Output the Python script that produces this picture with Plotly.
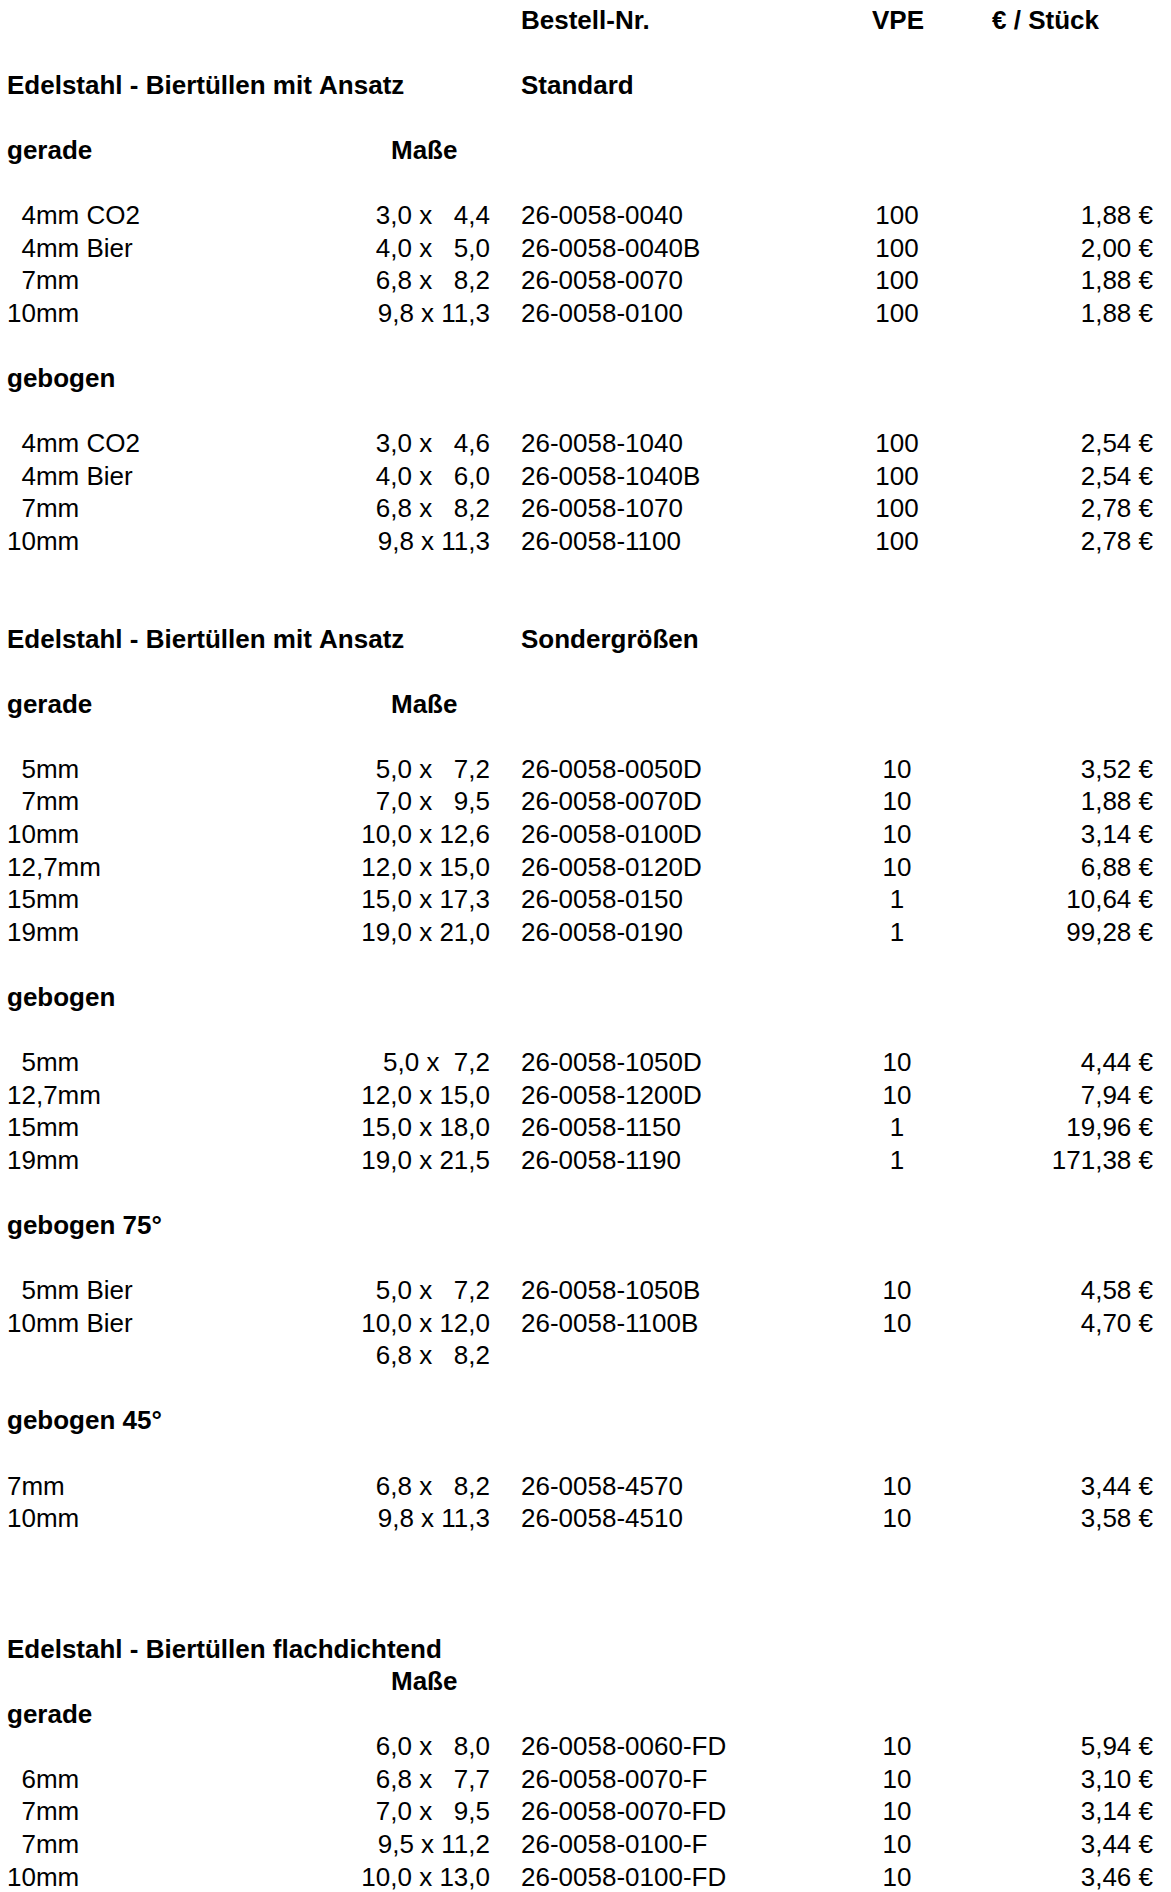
import plotly.graph_objects as go

# Preisliste Edelstahl-Biertüllen, Zeile für Zeile wie im Blatt ("" = leere Zelle)
col_bezeichnung = [
    "", "", "Edelstahl - Biertüllen mit Ansatz", "", "gerade", "",
    "  4mm CO2", "  4mm Bier", "  7mm", "10mm", "", "gebogen", "",
    "  4mm CO2", "  4mm Bier", "  7mm", "10mm", "", "",
    "Edelstahl - Biertüllen mit Ansatz", "", "gerade", "",
    "  5mm", "  7mm", "10mm", "12,7mm", "15mm", "19mm", "", "gebogen", "",
    "  5mm", "12,7mm", "15mm", "19mm", "", "gebogen 75°", "",
    "  5mm Bier", "10mm Bier", "", "", "gebogen 45°", "",
    "7mm", "10mm", "", "", "",
    "Edelstahl - Biertüllen flachdichtend", "", "gerade",
    "", "  6mm", "  7mm", "  7mm", "10mm",
]
col_masse = [
    "", "", "", "", "Maße", "",
    "3,0 x   4,4", "4,0 x   5,0", "6,8 x   8,2", "9,8 x 11,3", "", "", "",
    "3,0 x   4,6", "4,0 x   6,0", "6,8 x   8,2", "9,8 x 11,3", "", "",
    "", "", "Maße", "",
    "5,0 x   7,2", "7,0 x   9,5", "10,0 x 12,6", "12,0 x 15,0", "15,0 x 17,3", "19,0 x 21,0", "", "", "",
    "5,0 x  7,2", "12,0 x 15,0", "15,0 x 18,0", "19,0 x 21,5", "", "", "",
    "5,0 x   7,2", "10,0 x 12,0", "6,8 x   8,2", "", "", "",
    "6,8 x   8,2", "9,8 x 11,3", "", "", "",
    "", "Maße", "",
    "6,0 x   8,0", "6,8 x   7,7", "7,0 x   9,5", "9,5 x 11,2", "10,0 x 13,0",
]
col_bestellnr = [
    "Bestell-Nr.", "", "Standard", "", "", "",
    "26-0058-0040", "26-0058-0040B", "26-0058-0070", "26-0058-0100", "", "", "",
    "26-0058-1040", "26-0058-1040B", "26-0058-1070", "26-0058-1100", "", "",
    "Sondergrößen", "", "", "",
    "26-0058-0050D", "26-0058-0070D", "26-0058-0100D", "26-0058-0120D", "26-0058-0150", "26-0058-0190", "", "", "",
    "26-0058-1050D", "26-0058-1200D", "26-0058-1150", "26-0058-1190", "", "", "",
    "26-0058-1050B", "26-0058-1100B", "", "", "", "",
    "26-0058-4570", "26-0058-4510", "", "", "",
    "", "", "",
    "26-0058-0060-FD", "26-0058-0070-F", "26-0058-0070-FD", "26-0058-0100-F", "26-0058-0100-FD",
]
col_vpe = [
    "VPE", "", "", "", "", "",
    "100", "100", "100", "100", "", "", "",
    "100", "100", "100", "100", "", "",
    "", "", "", "",
    "10", "10", "10", "10", "1", "1", "", "", "",
    "10", "10", "1", "1", "", "", "",
    "10", "10", "", "", "", "",
    "10", "10", "", "", "",
    "", "", "",
    "10", "10", "10", "10", "10",
]
col_preis = [
    "€ / Stück", "", "", "", "", "",
    "1,88 €", "2,00 €", "1,88 €", "1,88 €", "", "", "",
    "2,54 €", "2,54 €", "2,78 €", "2,78 €", "", "",
    "", "", "", "",
    "3,52 €", "1,88 €", "3,14 €", "6,88 €", "10,64 €", "99,28 €", "", "", "",
    "4,44 €", "7,94 €", "19,96 €", "171,38 €", "", "", "",
    "4,58 €", "4,70 €", "", "", "", "",
    "3,44 €", "3,58 €", "", "", "",
    "", "", "",
    "5,94 €", "3,10 €", "3,14 €", "3,44 €", "3,46 €",
]

headings = {
    "Bestell-Nr.", "VPE", "€ / Stück", "Standard", "Sondergrößen", "Maße",
    "Edelstahl - Biertüllen mit Ansatz", "Edelstahl - Biertüllen flachdichtend",
    "gerade", "gebogen", "gebogen 75°", "gebogen 45°",
}

W, H = 1171, 1892
ROW_PX, ROW0_PX = 32.58, 22.0
FONT = "Liberation Sans, Arial, sans-serif"
SIZE = 26

# (spalte, x normal, textposition normal, x fett, textposition fett)
columns = [
    (col_bezeichnung, 7, "middle right", 7, "middle right"),
    (col_masse, 490, "middle left", 391, "middle right"),
    (col_bestellnr, 521, "middle right", 521, "middle right"),
    (col_vpe, 897, "middle center", 898, "middle center"),
    (col_preis, 1153, "middle left", 992, "middle right"),
]

fig = go.Figure()
for values, x_reg, pos_reg, x_bold, pos_bold in columns:
    for bold in (False, True):
        rows = [i for i, v in enumerate(values) if v and ((v in headings) == bold)]
        if not rows:
            continue
        fig.add_trace(go.Scatter(
            x=[x_bold if bold else x_reg] * len(rows),
            y=rows,
            text=[values[i].replace(" ", "\u00a0") for i in rows],
            mode="text",
            textposition=pos_bold if bold else pos_reg,
            textfont=dict(family=FONT, size=SIZE, color="black",
                          weight="bold" if bold else "normal"),
            cliponaxis=False,
            hoverinfo="skip",
        ))

fig.update_layout(
    width=W,
    height=H,
    margin=dict(l=0, r=0, t=0, b=0),
    plot_bgcolor="white",
    paper_bgcolor="white",
    showlegend=False,
    xaxis=dict(visible=False, range=[0, W], fixedrange=True),
    yaxis=dict(visible=False, range=[(H - ROW0_PX) / ROW_PX, -ROW0_PX / ROW_PX], fixedrange=True),
)

fig.write_html("out.html", config={"displayModeBar": False},
               post_script="document.body.style.margin='0'; document.body.style.overflow='hidden';")
